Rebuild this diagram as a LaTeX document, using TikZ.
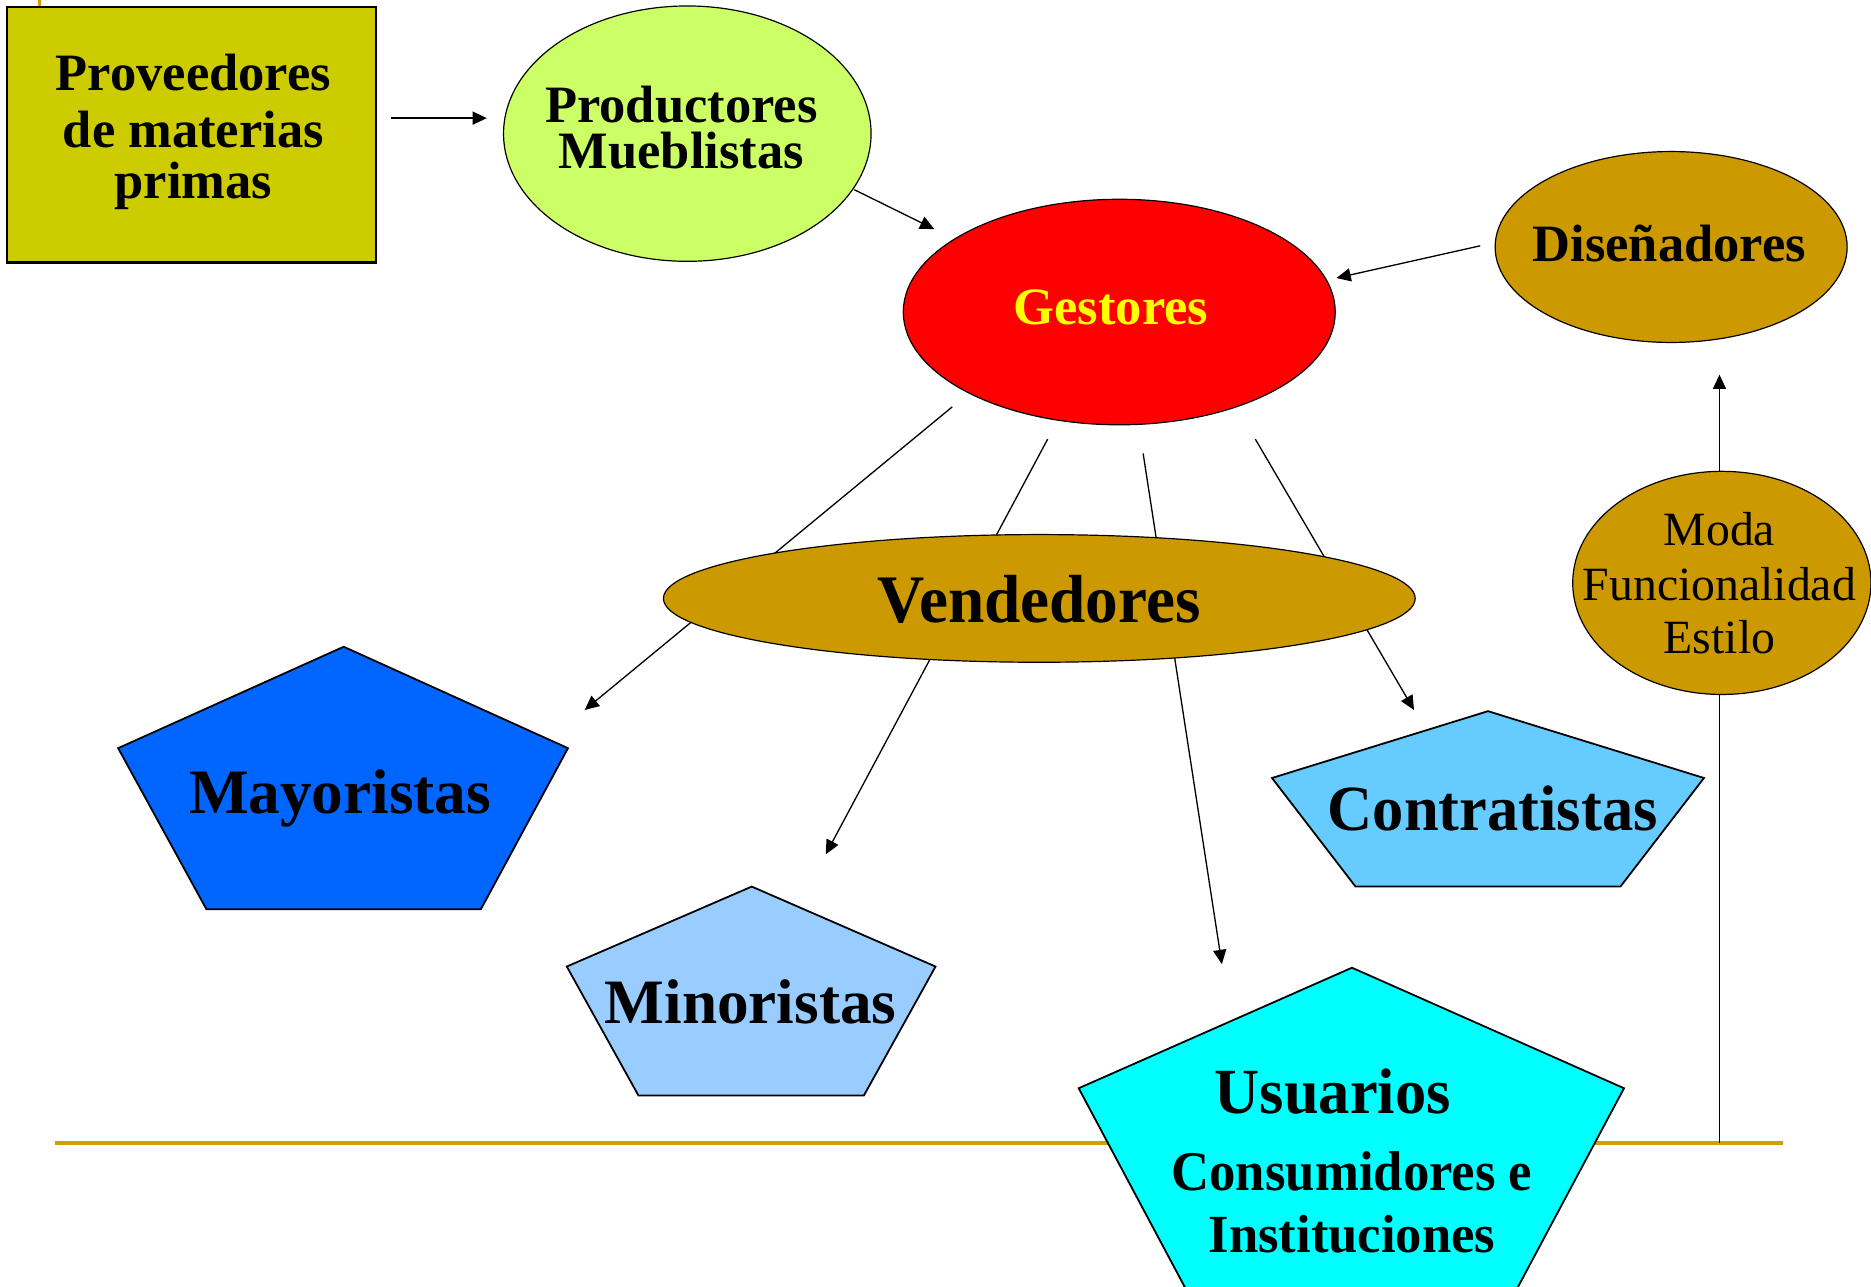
\documentclass[tikz,border=0pt]{standalone}
\usepackage{fontspec}
\usepackage{graphicx}
\setmainfont{Liberation Serif}
\usetikzlibrary{arrows.meta,shapes.geometric}
\definecolor{provc}{HTML}{CCCC00}
\definecolor{prodc}{HTML}{CCFF66}
\definecolor{gestc}{HTML}{FF0000}
\definecolor{goldc}{HTML}{CC9900}
\definecolor{framec}{HTML}{D29E00}
\definecolor{mayoc}{HTML}{0066FF}
\definecolor{minoc}{HTML}{99CCFF}
\definecolor{contc}{HTML}{66CCFF}
\definecolor{usuc}{HTML}{00FFFF}
\definecolor{gtext}{HTML}{FFFF00}
\newcommand\fsz[2]{\fontsize{#1}{#2}\selectfont}
\begin{document}
\begin{tikzpicture}[x=1pt,y=-1pt,
  ell/.style={ellipse, draw=black, line width=1pt, inner sep=0pt},
  pent/.style={draw=black, line width=1.5pt, line join=miter},
  conn/.style={draw=black, line width=1.1pt},
  arr/.style={draw=black, line width=1.1pt, -{Triangle[length=12pt,width=11pt]}},
  lbl/.style={anchor=base, inner sep=0pt, font=\bfseries\fsz{44}{45}},
  frame/.style={draw=framec, line width=3.4pt}]
\useasboundingbox (0,0) rectangle (1568,1078);
\clip (0,0) rectangle (1568,1078);
% frame decoration
\coordinate (fl) at (46,958);
\coordinate (fr) at (1494,958);
\coordinate (ft) at (33,0);
\coordinate (fb) at (33,6);
\draw[frame] (fl) -- (fr);
\draw[draw=framec, line width=2.5pt] (ft) -- (fb);

% Proveedores
\node[draw=black, line width=2.2pt, fill=provc, minimum width=309pt, minimum height=214pt, inner sep=0pt] (prov) at (160.5,113) {};
\node[lbl] (prov1) at (162,75.5) {Proveedores};
\node[lbl] (prov2) at (162,124) {de materias};
\node[lbl] (prov3) at (162,166) {primas};

% Productores
\node[ell, fill=prodc, minimum width=308pt, minimum height=214pt] (prod) at (576,112) {};
\node[lbl] (prod1) at (571,103) {Productores};
\node[lbl] (prod2) at (571,141.5) {Mueblistas};

% Gestores
\node[ell, fill=gestc, minimum width=362pt, minimum height=189pt] (gest) at (938,261.5) {};
\node[lbl, text=gtext] (gestt) at (931,272) {Gestores};

% Disenadores
\node[ell, fill=goldc, minimum width=295pt, minimum height=160pt] (dise) at (1400.5,207) {};
\node[lbl] (diset) at (1399,219) {Diseñadores};

% Moda
\node[ell, fill=goldc, minimum width=250pt, minimum height=187pt] (moda) at (1443,488.5) {};
\node[lbl, font=\fsz{40}{45}] (moda1) at (1441,457.5) {Moda};
\node[lbl, font=\fsz{40}{45}] (moda2) at (1441,503) {Funcionalidad};
\node[lbl, font=\fsz{40}{45}] (moda3) at (1441,547.5) {Estilo};

% arrows top
\coordinate (a1s) at (328,99);
\coordinate (a1e) at (408,99);
\draw[arr] (a1s) -- (a1e);
\coordinate (a2s) at (716,159);
\coordinate (a2e) at (783,192);
\draw[arr] (a2s) -- (a2e);
\coordinate (a3s) at (1240.5,206);
\coordinate (a3e) at (1120,233);
\draw[arr] (a3s) -- (a3e);
\coordinate (mtop) at (1441,395);
\coordinate (mbot) at (1441,582);
\coordinate (a4e) at (1441,314);
\draw[arr] (mtop) -- (a4e);
\draw[conn] (mbot) -- (mbot |- fl);

% connectors from Gestores (behind Vendedores)
\coordinate (g1) at (798,341);
\coordinate (t1) at (490,595);
\coordinate (g2) at (878,368);
\coordinate (t2) at (692,716);
\coordinate (g3) at (958,380);
\coordinate (t3) at (1024,808);
\coordinate (g4) at (1052,368);
\coordinate (t4) at (1185,595);
\draw[arr] (g1) -- (t1);
\draw[arr] (g2) -- (t2);
\draw[arr] (g3) -- (t3);
\draw[arr] (g4) -- (t4);

% Vendedores
\node[ell, fill=goldc, minimum width=630pt, minimum height=107pt] (vend) at (871,501.5) {};
\node[lbl] (vendt) at (871,522) {\fsz{57}{60}\scalebox{0.96}[1]{Vendedores}};

% pentagons
\draw[pent, fill=mayoc] (288,542) -- (476,627) -- (403,762) -- (173,762) -- (99,627) -- cycle;
\node[lbl, font=\bfseries\fsz{53}{55}] (mayo) at (285,682) {Mayoristas};

\draw[pent, fill=minoc] (630,743) -- (784,810) -- (724,918) -- (535,918) -- (475,810) -- cycle;
\node[lbl, font=\bfseries\fsz{53}{55}] (mino) at (629,858) {Minoristas};

\draw[pent, fill=contc] (1247,596) -- (1428,652) -- (1358,743) -- (1136,743) -- (1066,652) -- cycle;
\node[lbl, font=\bfseries\fsz{54}{55}] (cont) at (1251,696) {\scalebox{0.97}[1]{Contratistas}};

\draw[pent, fill=usuc] (1133,811) -- (1361,912) -- (1250,1120) -- (1015,1120) -- (904,912) -- cycle;
\node[lbl, font=\bfseries\fsz{54}{55}] (usu1) at (1117,933) {\scalebox{0.97}[1]{Usuarios}};
\node[lbl, font=\bfseries\fsz{47}{50}] (usu2) at (1133,997.5) {\scalebox{0.94}[1]{Consumidores e}};
\node[lbl, font=\bfseries\fsz{45}{48}] (usu3) at (1133,1049.5) {\scalebox{0.98}[1]{Instituciones}};
\end{tikzpicture}
\end{document}
